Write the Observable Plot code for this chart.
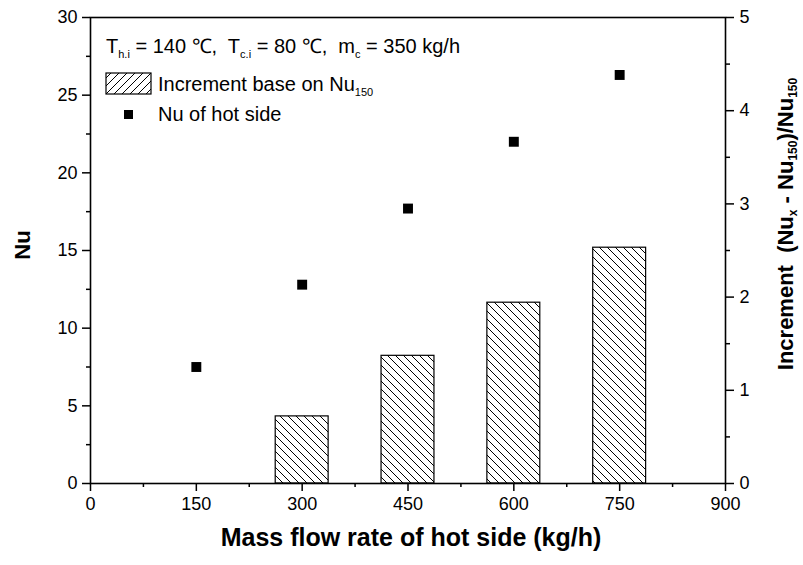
<!DOCTYPE html>
<html>
<head>
<meta charset="utf-8">
<script src="https://cdn.jsdelivr.net/npm/d3@7"></script>
<script src="https://cdn.jsdelivr.net/npm/@observablehq/plot@0.6"></script>
<style>
  html, body { margin: 0; padding: 0; background: #fff; }
  #chart svg { font-family: "Liberation Sans", Arial, sans-serif; }
</style>
</head>
<body>
<div id="chart"></div>
<script>
// Data
const flowRates = [150, 300, 450, 600, 750];           // kg/h
const nuHot = [7.5, 12.8, 17.7, 22.0, 26.3];            // Nu of hot side
const incFlow = [300, 450, 600, 750];
const increment = [0.72, 1.37, 1.94, 2.53];             // (Nu_x - Nu_150)/Nu_150
const xTicks = [0, 150, 300, 450, 600, 750, 900];
const xMinor = [75, 225, 375, 525, 675, 825];
const yTicks = [0, 5, 10, 15, 20, 25, 30];
const yMinor = [2.5, 7.5, 12.5, 17.5, 22.5, 27.5];
const rTicks = [0, 1, 2, 3, 4, 5];
const rMinor = [0.5, 1.5, 2.5, 3.5, 4.5];
const ratio = 6; // right axis (0-5) onto left axis (0-30)
const barHalf = 37.5;

const points = flowRates.map((x, i) => ({x, nu: nuHot[i]}));
const bars = incFlow.map((x, i) => ({x1: x - barHalf, x2: x + barHalf, v: increment[i] * ratio}));

const chart = Plot.plot({
  width: 803,
  height: 565,
  marginLeft: 90,
  marginRight: 78,
  marginTop: 17,
  marginBottom: 82,
  style: {fontSize: "18px", fontFamily: "Liberation Sans, Arial, sans-serif", color: "#000", background: "#fff"},
  x: {domain: [0, 900]},
  y: {domain: [0, 30]},
  marks: [
    Plot.rectY(bars, {x1: "x1", x2: "x2", y1: 0, y2: "v", fill: "url(#hatchBar)", stroke: "#000", strokeWidth: 1.2, inset: 0}),
    Plot.dot(points, {x: "x", y: "nu", symbol: "square", r: 5.6, fill: "#000", stroke: "none"}),
    Plot.axisX({ticks: xTicks, tickSize: 8, tickPadding: 6, label: null, strokeWidth: 1.5, fontSize: 18}),
    Plot.axisX({ticks: xMinor, tickSize: 4, label: null, text: null, strokeWidth: 1.5}),
    Plot.axisY({ticks: yTicks, tickSize: 8, tickPadding: 5, label: null, strokeWidth: 1.5, fontSize: 18}),
    Plot.axisY({ticks: yMinor, tickSize: 4, label: null, text: null, strokeWidth: 1.5}),
    Plot.axisY({anchor: "right", ticks: rTicks.map(d => d * ratio), tickFormat: d => String(d / ratio), tickSize: 8, tickPadding: 6, label: null, strokeWidth: 1.5, fontSize: 18}),
    Plot.axisY({anchor: "right", ticks: rMinor.map(d => d * ratio), tickSize: 4, label: null, text: null, strokeWidth: 1.5}),
    Plot.frame({stroke: "#000", strokeWidth: 1.6})
  ]
});

const svg = d3.select(chart);
const defs = svg.insert("defs", ":first-child");
const pb = defs.append("pattern").attr("id", "hatchBar").attr("patternUnits", "userSpaceOnUse")
  .attr("width", 8).attr("height", 8);
pb.append("rect").attr("width", 8).attr("height", 8).attr("fill", "#fff");
pb.append("path").attr("d", "M0,0 L8,8 M-2,6 L2,10 M6,-2 L10,2").attr("stroke", "#000").attr("stroke-width", 1);
const pl = defs.append("pattern").attr("id", "hatchLeg").attr("patternUnits", "userSpaceOnUse")
  .attr("width", 8).attr("height", 8);
pl.append("rect").attr("width", 8).attr("height", 8).attr("fill", "#fff");
pl.append("path").attr("d", "M0,8 L8,0 M-2,2 L2,-2 M6,10 L10,6").attr("stroke", "#000").attr("stroke-width", 1);

const font = "Liberation Sans, Arial, sans-serif";
const ann = svg.append("g").attr("text-anchor", "start").attr("font-family", font).attr("fill", "#000");

// Condition line
const cond = ann.append("text").attr("x", 106).attr("y", 53).attr("font-size", 20);
cond.append("tspan").text("T");
cond.append("tspan").attr("font-size", 11).attr("dy", 5).text("h.i");
cond.append("tspan").attr("dy", -5).text(" = 140 ℃,  T");
cond.append("tspan").attr("font-size", 11).attr("dy", 5).text("c.i");
cond.append("tspan").attr("dy", -5).text(" = 80 ℃,  m");
cond.append("tspan").attr("font-size", 11).attr("dy", 5).text("c");
cond.append("tspan").attr("dy", -5).text(" = 350 kg/h");

// Legend
ann.append("rect").attr("x", 106).attr("y", 73).attr("width", 45).attr("height", 21)
  .attr("fill", "url(#hatchLeg)").attr("stroke", "#000").attr("stroke-width", 1.2);
const l1 = ann.append("text").attr("x", 158).attr("y", 91).attr("font-size", 20);
l1.append("tspan").text("Increment base on Nu");
l1.append("tspan").attr("font-size", 11).attr("dy", 5).text("150");
ann.append("rect").attr("x", 124).attr("y", 110).attr("width", 9).attr("height", 9).attr("fill", "#000");
ann.append("text").attr("x", 158).attr("y", 121).attr("font-size", 20).text("Nu of hot side");

// Axis titles
const titles = svg.append("g").attr("text-anchor", "middle").attr("font-family", font)
  .attr("font-weight", "bold").attr("fill", "#000");
titles.append("text").attr("x", 411).attr("y", 546).attr("font-size", 25)
  .text("Mass flow rate of hot side (kg/h)");
titles.append("text").attr("transform", "translate(30,245) rotate(-90)").attr("font-size", 22)
  .text("Nu");
const rt = titles.append("text").attr("transform", "translate(793,224) rotate(-90)").attr("font-size", 22)
  .attr("xml:space", "preserve");
rt.append("tspan").text("Increment  (Nu");
rt.append("tspan").attr("font-size", 12).attr("dy", 4).text("x");
rt.append("tspan").attr("dy", -4).text(" - Nu");
rt.append("tspan").attr("font-size", 12).attr("dy", 4).text("150");
rt.append("tspan").attr("dy", -4).text(")/Nu");
rt.append("tspan").attr("font-size", 12).attr("dy", 4).text("150");

document.getElementById("chart").appendChild(chart);
</script>
</body>
</html>
